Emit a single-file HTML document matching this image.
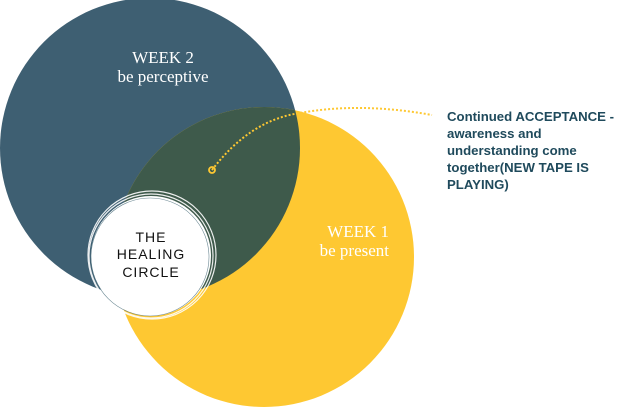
<!DOCTYPE html>
<html><head><style>
html,body{margin:0;padding:0;background:#fff;}
</style></head><body>
<svg width="624" height="408" xmlns="http://www.w3.org/2000/svg">
<defs>
<clipPath id="b"><circle cx="150" cy="148" r="150"/></clipPath>
</defs>
<circle cx="150" cy="148" r="150" fill="#3e5f72"/>
<circle cx="264" cy="257" r="150" fill="#fec832"/>
<circle cx="264" cy="257" r="150" fill="#3e5a4b" clip-path="url(#b)"/>
<circle cx="151" cy="256" r="60" fill="#fff"/>
<g fill="none" stroke="#fff" stroke-width="1.2" opacity="0.9">
<circle cx="151" cy="256" r="62"/>
<circle cx="152" cy="255" r="64"/>
<circle cx="150" cy="257" r="59" stroke="#5a7a86" stroke-width="0.6"/>
</g>
<text x="151" y="242" font-family="Liberation Sans, sans-serif" font-size="14" fill="#111" text-anchor="middle" letter-spacing="1">THE</text>
<text x="151" y="259" font-family="Liberation Sans, sans-serif" font-size="14" fill="#111" text-anchor="middle" letter-spacing="1">HEALING</text>
<text x="151" y="277" font-family="Liberation Sans, sans-serif" font-size="14" fill="#111" text-anchor="middle" letter-spacing="1">CIRCLE</text>
<text x="163" y="63" font-family="Liberation Serif, serif" font-size="17" fill="#fff" text-anchor="middle">WEEK 2</text>
<text x="163" y="82" font-family="Liberation Serif, serif" font-size="17" fill="#fff" text-anchor="middle">be perceptive</text>
<text x="389" y="237" font-family="Liberation Serif, serif" font-size="17" fill="#fff" text-anchor="end">WEEK 1</text>
<text x="389" y="256" font-family="Liberation Serif, serif" font-size="17" fill="#fff" text-anchor="end">be present</text>
<path d="M212 170 Q250 120 300 113 Q360 102 432 115" fill="none" stroke="#fec832" stroke-width="2" stroke-dasharray="2 2"/>
<circle cx="212" cy="170" r="3" fill="none" stroke="#fec832" stroke-width="1.8"/>
<g font-family="Liberation Sans, sans-serif" font-size="13.2" font-weight="bold" fill="#1f4a5c">
<text x="447" y="121">Continued ACCEPTANCE -</text>
<text x="447" y="138">awareness and</text>
<text x="447" y="155">understanding  come</text>
<text x="447" y="172">together(NEW TAPE IS</text>
<text x="447" y="189">PLAYING)</text>
</g>
</svg>
</body></html>
